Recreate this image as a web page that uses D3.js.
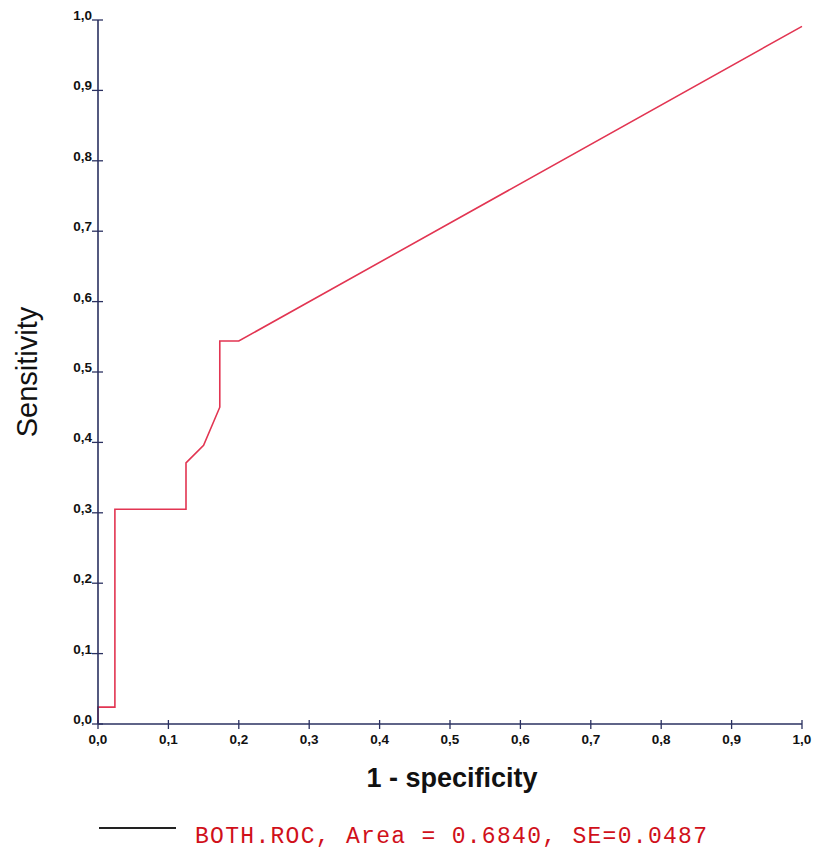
<!DOCTYPE html>
<html>
<head>
<meta charset="utf-8">
<script src="https://cdn.jsdelivr.net/npm/d3@7"></script>
<style>
  body { margin: 0; background: #fff; }
  svg { display: block; }
  .tick-label { font-family: Arial, "Liberation Sans", sans-serif; font-weight: bold; font-size: 13.5px; fill: #111; }
</style>
</head>
<body>
<svg id="chart"></svg>
<script>
"use strict"

// ROC curve points (1 - specificity, sensitivity)
var fpr = [0.000, 0.000, 0.024, 0.024, 0.125, 0.125, 0.150, 0.173, 0.173, 0.200, 1.000]
var tpr = [0.000, 0.024, 0.024, 0.305, 0.305, 0.371, 0.396, 0.450, 0.544, 0.544, 0.991]

var tickValues = [0, 0.1, 0.2, 0.3, 0.4, 0.5, 0.6, 0.7, 0.8, 0.9, 1.0]
var tickLabels = ["0,0", "0,1", "0,2", "0,3", "0,4", "0,5", "0,6", "0,7", "0,8", "0,9", "1,0"]

var xTitle = "1 - specificity"
var yTitle = "Sensitivity"
var legendText = "BOTH.ROC, Area = 0.6840, SE=0.0487"

;(function(){
  var W = 814, H = 849
  var plotLeft = 98, plotRight = 802, plotTop = 20, plotBottom = 724
  var axisColor = "#2a3060"

  var svg = d3.select("#chart").attr("width", W).attr("height", H)

  var x = d3.scaleLinear().domain([0, 1]).range([plotLeft, plotRight])
  var y = d3.scaleLinear().domain([0, 1]).range([plotBottom, plotTop])

  // curve first so the axes sit on top of it
  var line = d3.line()
    .x(function(d){ return x(d[0]) })
    .y(function(d){ return y(d[1]) })

  svg.append("path")
    .datum(d3.zip(fpr, tpr))
    .attr("d", line)
    .attr("fill", "none")
    .attr("stroke", "#e23552")
    .attr("stroke-width", 1.6)

  // axis lines
  svg.append("line")
    .attr("x1", x(0)).attr("x2", x(1))
    .attr("y1", y(0)).attr("y2", y(0))
    .attr("stroke", axisColor).attr("stroke-width", 1.6)

  svg.append("line")
    .attr("x1", x(0)).attr("x2", x(0))
    .attr("y1", y(0)).attr("y2", y(1))
    .attr("stroke", axisColor).attr("stroke-width", 1.6)

  // x ticks cross the axis
  svg.selectAll(".xtick")
    .data(tickValues)
    .enter().append("line")
    .attr("x1", function(d){ return x(d) })
    .attr("x2", function(d){ return x(d) })
    .attr("y1", y(0) - 4)
    .attr("y2", y(0) + 5)
    .attr("stroke", axisColor).attr("stroke-width", 1.3)

  svg.selectAll(".xlabel")
    .data(tickValues)
    .enter().append("text")
    .attr("class", "tick-label")
    .attr("x", function(d){ return x(d) })
    .attr("y", 744)
    .attr("text-anchor", "middle")
    .text(function(d, i){ return tickLabels[i] })

  // y ticks cross the axis, label sits on the tick
  svg.selectAll(".ytick")
    .data(tickValues)
    .enter().append("line")
    .attr("x1", x(0) - 6)
    .attr("x2", x(0) + 5)
    .attr("y1", function(d){ return y(d) })
    .attr("y2", function(d){ return y(d) })
    .attr("stroke", axisColor).attr("stroke-width", 1.3)

  svg.selectAll(".ylabel")
    .data(tickValues)
    .enter().append("text")
    .attr("class", "tick-label")
    .attr("x", x(0) - 6)
    .attr("y", function(d){ return y(d) })
    .attr("text-anchor", "end")
    .text(function(d, i){ return tickLabels[i] })

  // axis titles
  svg.append("text")
    .attr("x", 452).attr("y", 787)
    .attr("text-anchor", "middle")
    .style("font-family", "Arial, 'Liberation Sans', sans-serif")
    .style("font-weight", "bold")
    .style("font-size", "27px")
    .attr("fill", "#111")
    .text(xTitle)

  svg.append("text")
    .attr("transform", "translate(37, 372) rotate(-90)")
    .attr("text-anchor", "middle")
    .style("font-family", "Arial, 'Liberation Sans', sans-serif")
    .style("font-size", "29px")
    .attr("fill", "#111")
    .text(yTitle)

  // legend
  svg.append("line")
    .attr("x1", 99).attr("x2", 176)
    .attr("y1", 828).attr("y2", 828)
    .attr("stroke", "#222").attr("stroke-width", 2)

  svg.append("text")
    .attr("x", 195).attr("y", 843)
    .attr("textLength", 512)
    .attr("lengthAdjust", "spacing")
    .style("font-family", "'Liberation Mono', 'Courier New', monospace")
    .style("font-size", "23px")
    .attr("fill", "#d0101a")
    .text(legendText)
})()
</script>
</body>
</html>
